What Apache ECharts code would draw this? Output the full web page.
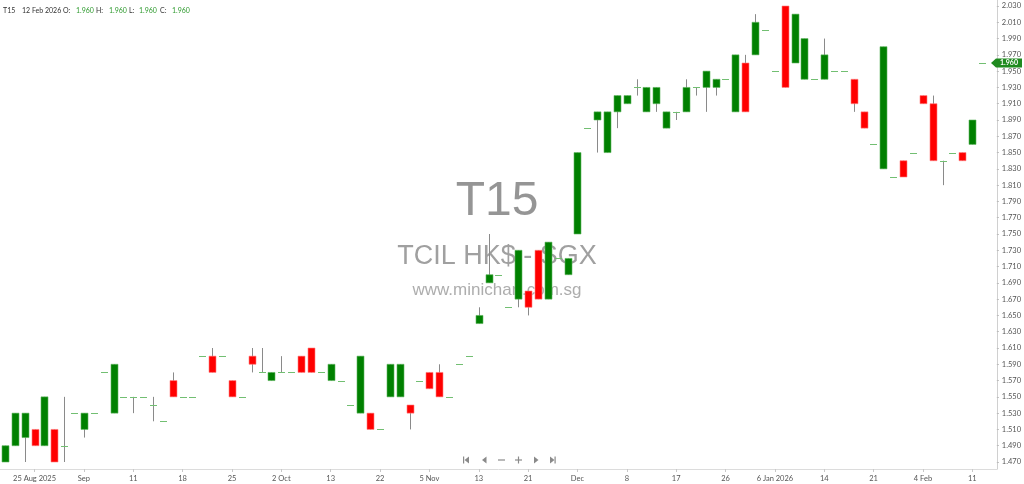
<!DOCTYPE html>
<html>
<head>
<meta charset="utf-8">
<script src="https://cdn.jsdelivr.net/npm/echarts@6/dist/echarts.min.js"></script>
<style>
html,body{margin:0;padding:0;background:#fff;}
#chart{width:1024px;height:484px;}
</style>
</head>
<body>
<div id="chart"></div>
<script>
// ---- data ----
const tickLabels = ['25 Aug 2025','Sep','11','18','25','2 Oct','13','22','5 Nov','13','21','Dec','8','17','26','6 Jan 2026','14','21','4 Feb','11'];
const tickStart = 3, tickEvery = 5;
const openV  = [1.47,1.49,1.50,1.51,1.49,1.51,1.49,1.53,1.51,1.53, 1.58,1.53,1.55,1.55,1.55,1.54,1.52,1.57,1.55,1.55, 1.60,1.60,1.60,1.57,1.55,1.60,1.58,1.57,1.58,1.58, 1.60,1.61,1.58,1.57,1.57,1.54,1.53,1.53,1.51,1.55, 1.55,1.54,1.57,1.58,1.58,1.55,1.59,1.60,1.64,1.69, 1.70,1.66,1.67,1.68,1.73,1.67,1.72,1.70,1.75,1.88, 1.89,1.85,1.90,1.91,1.93,1.90,1.91,1.88,1.90,1.90, 1.93,1.93,1.93,1.94,1.90,1.96,1.97,2.00,1.95,2.03, 1.96,1.94,1.94,1.94,1.95,1.95,1.94,1.90,1.86,1.83, 1.82,1.84,1.85,1.92,1.91,1.84,1.85,1.85,1.86,1.96];
const highV  = [1.49,1.53,1.53,1.51,1.55,1.51,1.55,1.53,1.53,1.53, 1.58,1.59,1.55,1.55,1.55,1.55,1.52,1.58,1.55,1.55, 1.60,1.61,1.60,1.57,1.55,1.61,1.61,1.58,1.60,1.58, 1.60,1.61,1.58,1.59,1.57,1.54,1.60,1.53,1.51,1.59, 1.59,1.54,1.57,1.58,1.59,1.55,1.59,1.60,1.66,1.75, 1.70,1.66,1.73,1.68,1.73,1.74,1.72,1.72,1.85,1.88, 1.90,1.90,1.92,1.92,1.94,1.93,1.93,1.90,1.90,1.94, 1.93,1.95,1.94,1.94,1.97,1.97,2.02,2.00,1.95,2.03, 2.02,1.99,1.94,1.99,1.95,1.95,1.94,1.90,1.86,1.98, 1.82,1.84,1.85,1.92,1.92,1.84,1.85,1.85,1.89,1.96];
const lowV   = [1.47,1.49,1.47,1.49,1.49,1.47,1.47,1.53,1.50,1.53, 1.58,1.53,1.55,1.53,1.55,1.52,1.52,1.55,1.55,1.55, 1.60,1.58,1.60,1.55,1.55,1.58,1.58,1.57,1.58,1.58, 1.58,1.58,1.58,1.57,1.57,1.54,1.53,1.51,1.51,1.55, 1.55,1.51,1.57,1.56,1.55,1.55,1.59,1.60,1.64,1.69, 1.70,1.66,1.66,1.65,1.67,1.67,1.72,1.70,1.75,1.88, 1.85,1.85,1.88,1.91,1.92,1.90,1.90,1.88,1.89,1.90, 1.92,1.90,1.92,1.94,1.90,1.90,1.97,2.00,1.95,1.93, 1.96,1.94,1.94,1.94,1.95,1.95,1.90,1.88,1.86,1.83, 1.82,1.82,1.85,1.91,1.84,1.81,1.85,1.84,1.86,1.96];
const closeV = [1.49,1.53,1.53,1.49,1.55,1.47,1.49,1.53,1.53,1.53, 1.58,1.59,1.55,1.55,1.55,1.54,1.52,1.55,1.55,1.55, 1.60,1.58,1.60,1.55,1.55,1.59,1.58,1.58,1.58,1.58, 1.58,1.58,1.58,1.59,1.57,1.54,1.60,1.51,1.51,1.59, 1.59,1.53,1.57,1.56,1.55,1.55,1.59,1.60,1.65,1.70, 1.70,1.66,1.73,1.66,1.67,1.74,1.72,1.72,1.85,1.88, 1.90,1.90,1.92,1.92,1.93,1.93,1.93,1.90,1.90,1.93, 1.93,1.95,1.94,1.94,1.97,1.90,2.01,2.00,1.95,1.93, 2.02,1.99,1.94,1.97,1.95,1.95,1.91,1.88,1.86,1.98, 1.82,1.82,1.85,1.91,1.84,1.84,1.85,1.84,1.89,1.96];
const symbolName = 'T15';
const headerDate = '12 Feb 2026';
const yTickMin = 1.47, yTickMax = 2.03, yTickStep = 0.02;
const slotCount = openV.length + 1;

// ---- build ----
const categories = [];
for (let i = 0; i < slotCount; i++) categories.push(String(i));
const candleData = openV.map((o, i) => [i, o, closeV[i], lowV[i], highV[i]]);
const last = candleData[candleData.length - 1];
const fmt = v => v.toFixed(3);

const chart = echarts.init(document.getElementById('chart'), null, {renderer: 'canvas'});
const FONT = 'Lato, "Open Sans", sans-serif';
const isTick = idx => idx >= tickStart && (idx - tickStart) % tickEvery === 0;

const option = {
  animation: false,
  backgroundColor: '#ffffff',
  grid: [
    {left: 0, right: 27, top: 0, bottom: 15},
    {left: 0, right: 27, top: 6, bottom: 22}
  ],
  xAxis: [
    {
      type: 'category', gridIndex: 0, data: categories, boundaryGap: true,
      axisLine: {lineStyle: {color: '#dcdcdc', width: 1}},
      axisTick: {show: true, alignWithLabel: true, length: 3, interval: isTick, lineStyle: {color: '#c8c8c8'}},
      axisLabel: {interval: isTick, margin: 6, color: '#555', fontSize: 7.5, fontFamily: FONT,
        formatter: (v, idx) => tickLabels[(idx - tickStart) / tickEvery] || ''},
      splitLine: {show: false}
    },
    {
      type: 'category', gridIndex: 1, data: categories, boundaryGap: true, show: false
    }
  ],
  yAxis: [
    {
      type: 'value', gridIndex: 0, position: 'right', min: 0, max: 1,
      axisLine: {show: true, lineStyle: {color: '#d0d0d0'}},
      axisTick: {show: false}, axisLabel: {show: false}, splitLine: {show: false}
    },
    {
      type: 'value', gridIndex: 1, position: 'right', min: yTickMin, max: yTickMax, interval: yTickStep,
      axisLine: {show: false},
      axisTick: {show: true, length: 2, lineStyle: {color: '#bbb'}},
      axisLabel: {margin: 5, color: '#555', fontSize: 7.5, fontFamily: FONT, formatter: v => v.toFixed(3)},
      splitLine: {show: false}
    }
  ],
  series: [{
    type: 'custom',
    xAxisIndex: 1, yAxisIndex: 1,
    z: 5,
    data: candleData,
    renderItem: function (params, api) {
      const i = api.value(0), o = api.value(1), c = api.value(2), l = api.value(3), h = api.value(4);
      const pO = api.coord([i, o]), pC = api.coord([i, c]), pL = api.coord([i, l]), pH = api.coord([i, h]);
      const w = Math.round(api.size([1, 0])[0] * 0.74);
      const xc = Math.round(pO[0]);
      const children = [];
      if (h > l) {
        children.push({type: 'line', shape: {x1: xc + 0.5, y1: pH[1], x2: xc + 0.5, y2: pL[1]},
          style: {stroke: '#8a8a8a', lineWidth: 1}});
      }
      if (o === c) {
        children.push({type: 'line', shape: {x1: xc - w / 2 + 0.5, y1: Math.round(pO[1]) + 0.5, x2: xc + w / 2 + 0.5, y2: Math.round(pO[1]) + 0.5},
          style: {stroke: '#72bf72', lineWidth: 1}});
      } else {
        const top = Math.min(pO[1], pC[1]);
        const ht = Math.abs(pO[1] - pC[1]);
        const up = c > o;
        children.push({type: 'rect', shape: {x: xc - w / 2 + 0.5, y: top, width: w, height: ht},
          style: {fill: up ? '#008000' : '#ff0000', stroke: up ? '#5fb55f' : '#ff8080', lineWidth: 0.6}});
      }
      return {type: 'group', children: children};
    }
  }],
  graphic: []
};
chart.setOption(option);

// ---- overlay texts & price tag ----
const yLast = chart.convertToPixel({yAxisIndex: 1}, last[2]);
const g = [];
// watermark
g.push({type: 'text', z: 0, x: 497, y: 202, style: {text: symbolName, font: '48px "Liberation Sans", Arial, sans-serif', fill: '#8a8a8a', textAlign: 'center', textVerticalAlign: 'middle', opacity: 0.9}});
g.push({type: 'text', z: 0, x: 497, y: 257, style: {text: 'TCIL HK$ - SGX', font: '27px "Liberation Sans", Arial, sans-serif', fill: '#969696', textAlign: 'center', textVerticalAlign: 'middle', opacity: 0.9}});
g.push({type: 'text', z: 0, x: 497, y: 290, style: {text: 'www.minichart.com.sg', font: '17px "Liberation Sans", Arial, sans-serif', fill: '#a4a4a4', textAlign: 'center', textVerticalAlign: 'middle', opacity: 0.9}});
// header
const hdr = [
  [3, symbolName, '#333'], [22, headerDate, '#333'],
  [63, 'O:', '#333'], [76, fmt(last[1]), '#2e9a2e'],
  [96, 'H:', '#333'], [109, fmt(last[4]), '#2e9a2e'],
  [129, 'L:', '#333'], [139, fmt(last[3]), '#2e9a2e'],
  [160, 'C:', '#333'], [172, fmt(last[2]), '#2e9a2e']
];
hdr.forEach(h => g.push({type: 'text', z: 10, x: h[0], y: 11, style: {text: h[1], font: '7px ' + FONT, fill: h[2], textVerticalAlign: 'middle'}}));
// last price tag
g.push({type: 'polygon', z: 20, shape: {points: [[991, yLast], [996, yLast - 4.5], [1022, yLast - 4.5], [1022, yLast + 4.5], [996, yLast + 4.5]]}, style: {fill: '#1f8a1f'}});
g.push({type: 'text', z: 21, x: 1009, y: yLast, style: {text: fmt(last[2]), font: 'bold 7px ' + FONT, fill: '#fff', textAlign: 'center', textVerticalAlign: 'middle'}});
// navigation icons
const nc = '#8a8a8a', ny = 460;
g.push({type: 'rect', z: 10, shape: {x: 463, y: ny - 3.5, width: 1.2, height: 7}, style: {fill: nc}});
g.push({type: 'polygon', z: 10, shape: {points: [[464.5, ny], [469, ny - 3.5], [469, ny + 3.5]]}, style: {fill: nc}});
g.push({type: 'polygon', z: 10, shape: {points: [[482, ny], [486.5, ny - 3.5], [486.5, ny + 3.5]]}, style: {fill: nc}});
g.push({type: 'rect', z: 10, shape: {x: 498, y: ny - 0.6, width: 7, height: 1.2}, style: {fill: nc}});
g.push({type: 'rect', z: 10, shape: {x: 515, y: ny - 0.6, width: 7, height: 1.2}, style: {fill: nc}});
g.push({type: 'rect', z: 10, shape: {x: 517.9, y: ny - 3.5, width: 1.2, height: 7}, style: {fill: nc}});
g.push({type: 'polygon', z: 10, shape: {points: [[534, ny - 3.5], [534, ny + 3.5], [538.5, ny]]}, style: {fill: nc}});
g.push({type: 'polygon', z: 10, shape: {points: [[550, ny - 3.5], [550, ny + 3.5], [554.5, ny]]}, style: {fill: nc}});
g.push({type: 'rect', z: 10, shape: {x: 554.5, y: ny - 3.5, width: 1.2, height: 7}, style: {fill: nc}});
chart.setOption({graphic: g});
</script>
</body>
</html>
